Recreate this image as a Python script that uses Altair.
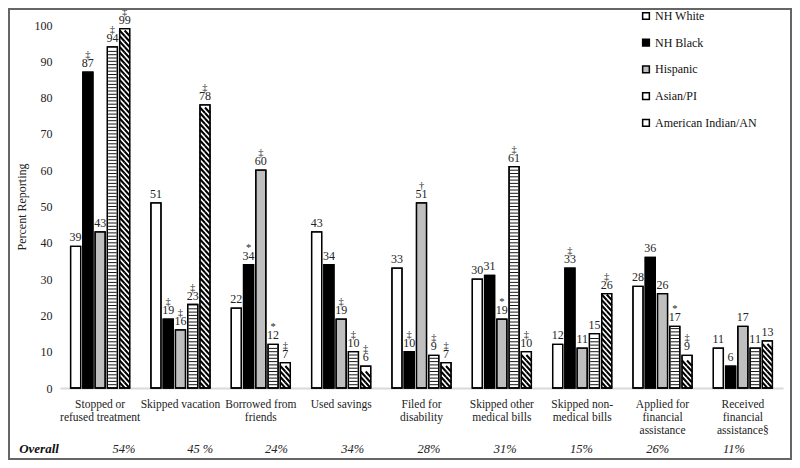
import altair as alt
import pandas as pd
import numpy as np

categories = ["Stopped or|refused treatment", "Skipped vacation", "Borrowed from|friends",
              "Used savings", "Filed for|disability", "Skipped other|medical bills",
              "Skipped non-|medical bills", "Applied for|financial|assistance",
              "Received|financial|assistance\u00a7"]
groups = ["NH White", "NH Black", "Hispanic", "Asian/PI", "American Indian/AN"]
overall = ["54%", "45 %", "24%", "34%", "28%", "31%", "15%", "26%", "11%"]

nh_white = [39, 51, 22, 43, 33, 30, 12, 28, 11]
nh_black = [87, 19, 34, 34, 10, 31, 33, 36, 6]
hispanic = [43, 16, 60, 19, 51, 19, 11, 26, 17]
asian_pi = [94, 23, 12, 10, 9, 61, 15, 17, 11]
ai_an = [99, 78, 7, 6, 7, 10, 26, 9, 13]

mk_white = ["", "", "", "", "", "", "", "", ""]
mk_black = ["‡", "‡", "*", "", "‡", "", "‡", "", ""]
mk_hisp = ["", "‡", "‡", "‡", "†", "*", "", "", ""]
mk_asian = ["‡", "‡", "*", "‡", "‡", "‡", "", "*", ""]
mk_aian = ["‡", "‡", "‡", "‡", "‡", "‡", "‡", "‡", ""]

fills = ["#ffffff", "#000000", "#bfbfbf", "#ffffff", "#ffffff"]
SERIF = "Liberation Serif"

W, H = 723, 363
PX = H / 100.0

series = [nh_white, nh_black, hispanic, asian_pi, ai_an]
marks = [mk_white, mk_black, mk_hisp, mk_asian, mk_aian]
rows = []
for g, vals, mks in zip(groups, series, marks):
    for c, v, m in zip(categories, vals, mks):
        rows.append({"cat": c, "group": g, "value": v, "label": str(v), "marker": m})
df = pd.DataFrame(rows)

# decorative pattern positions derived from the bar values
stripe_sp = 3.3 / PX
srows = []
for c, v in zip(categories, asian_pi):
    for y in np.arange(stripe_sp, v - stripe_sp * 0.5, stripe_sp):
        srows.append({"cat": c, "group": "Asian/PI", "value": float(y)})
sdf = pd.DataFrame(srows)

hatch_p = 5.5
hatch_u = hatch_p / PX
hrows = []
for c, v in zip(categories, ai_an):
    for y in np.arange(hatch_u / 2, v - hatch_u / 2 + 1e-9, hatch_u):
        hrows.append({"cat": c, "group": "American Indian/AN", "value": float(y)})
hdf = pd.DataFrame(hrows)

odf = pd.DataFrame({"cat": categories, "overall": overall})

x_scale = alt.Scale(domain=categories, paddingInner=0.237, paddingOuter=0.118)
x_axis = alt.Axis(labelExpr="split(datum.label, '|')", labelFont=SERIF, labelFontSize=11.5,
                  labelColor="#222", labelLineHeight=13, labelPadding=10, labelBaseline="top",
                  ticks=False, domainColor="#d9d9d9", domainWidth=2, labelAngle=0, title=None,
                  labelLimit=0)
x_enc = alt.X("cat:N", scale=x_scale, axis=x_axis)
xo_enc = alt.XOffset("group:N", scale=alt.Scale(domain=groups, paddingInner=0.18, paddingOuter=0.09))
y_scale = alt.Scale(domain=[0, 100], nice=False)
y_axis = alt.Axis(values=list(range(0, 101, 10)), title="Percent Reporting", grid=False,
                  domain=False, ticks=False, labelPadding=8, labelFont=SERIF, labelFontSize=12,
                  labelColor="#222", titleFont=SERIF, titleFontSize=12, titleFontWeight="normal",
                  titleColor="#222", titlePadding=6)
y_enc = alt.Y("value:Q", scale=y_scale, axis=y_axis)

bars = alt.Chart(df).mark_bar(stroke="black", strokeWidth=1.3).encode(
    x=x_enc,
    xOffset=xo_enc,
    y=y_enc,
    color=alt.Color("group:N", scale=alt.Scale(domain=groups, range=fills),
                    legend=alt.Legend(orient="none", legendX=580, legendY=-15, title=None,
                                      symbolType="square", symbolSize=45,
                                      symbolStrokeColor="black", symbolStrokeWidth=1.5,
                                      labelFont=SERIF, labelFontSize=12, labelColor="#111",
                                      rowPadding=12.7, labelOffset=3)),
)

stripes = alt.Chart(sdf).mark_point(shape="M -1 0 L 1 0", size=72, filled=False,
                                    stroke="black", strokeWidth=1, opacity=0.9).encode(
    x=x_enc, xOffset=xo_enc, y=y_enc)

hatch = alt.Chart(hdf).mark_point(
    shape="M -1 -%.3f L 0 %.3f M 0 -%.3f L 1 %.3f" % ((hatch_p / 10,) * 4),
    size=100, filled=False, stroke="black", strokeWidth=2, opacity=1).encode(
    x=x_enc, xOffset=xo_enc, y=y_enc)

outline = alt.Chart(df).mark_bar(fillOpacity=0, stroke="black", strokeWidth=1.3).encode(
    x=x_enc, xOffset=xo_enc, y=y_enc)

labels = alt.Chart(df).mark_text(baseline="bottom", dy=-2, font=SERIF, fontSize=12,
                                 color="#222", opacity=0.99).encode(
    x=x_enc, xOffset=xo_enc, y=y_enc, text="label:N")

markers = alt.Chart(df).mark_text(baseline="bottom", dy=-12, font=SERIF, fontSize=10.5,
                                  color="#222", opacity=0.99).encode(
    x=x_enc, xOffset=xo_enc, y=y_enc, text="marker:N")

main = alt.layer(bars, stripes, hatch, outline, labels, markers)

overall_txt = alt.Chart(odf).mark_text(font=SERIF, fontSize=12.5, fontStyle="italic",
                                       color="#222", baseline="middle").encode(
    x=alt.X("cat:N", scale=alt.Scale(domain=categories, type="point", range=[64, 674],
                                     padding=0), axis=None),
    y=alt.value(424),
    text="overall:N")

overall_lbl = alt.Chart(pd.DataFrame({"t": ["Overall"]})).mark_text(
    font=SERIF, fontSize=13, fontStyle="italic", fontWeight="bold", color="#111",
    baseline="middle").encode(x=alt.value(-21), y=alt.value(424), text="t:N")

frame = alt.Chart(pd.DataFrame({"t": [0]})).mark_rect(
    fillOpacity=0, stroke="#666", strokeWidth=2).encode(
    x=alt.value(-51), x2=alt.value(W + 8), y=alt.value(-16), y2=alt.value(434))

chart = alt.layer(main, overall_txt, overall_lbl, frame).resolve_scale(
    x="independent").properties(
    width=W, height=H,
    autosize=alt.AutoSizeParams(type="none"),
    padding={"left": 52, "top": 17, "right": 9, "bottom": 72},
).configure_view(stroke=None)

chart.save("out.html", embed_options={"renderer": "svg", "actions": False})
